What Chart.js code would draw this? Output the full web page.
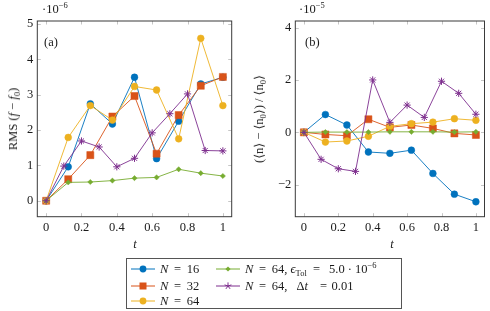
<!DOCTYPE html>
<html>
<head>
<meta charset="utf-8">
<script src="https://cdn.jsdelivr.net/npm/chart.js@4/dist/chart.umd.min.js"></script>
<style>
  html, body { margin:0; padding:0; background:#fff; }
  body { width:490px; height:311px; position:relative; overflow:hidden; font-family:"Liberation Serif","DejaVu Serif",serif; color:#1a1a1a; }
  canvas { position:absolute; top:0; }
  .lbl { position:absolute; white-space:nowrap; font-size:12.5px; line-height:14px; transform:translateY(-50%); }
  .rot { position:absolute; white-space:nowrap; font-size:12.5px; line-height:14px; transform:translate(-50%,-50%) rotate(-90deg); }
  .ctr { position:absolute; white-space:nowrap; font-size:12.5px; line-height:14px; transform:translate(-50%,-50%); }
  i { font-style:italic; }
  sup { font-size:8.5px; vertical-align:5px; line-height:0; }
  sub { font-size:8.5px; vertical-align:-3px; line-height:0; }
  #legend { position:absolute; left:126px; top:258px; width:276px; height:51px; border:1px solid #555; box-sizing:border-box; }
  svg.sym { position:absolute; overflow:visible; }
</style>
</head>
<body>
<canvas id="cA" width="245" height="255" style="left:0px"></canvas>
<canvas id="cB" width="245" height="255" style="left:245px"></canvas>

<div class="lbl" style="left:42px;top:9px">·10<sup>−6</sup></div>
<div class="lbl" style="left:299px;top:9px">·10<sup>−5</sup></div>
<div class="lbl" style="left:44px;top:42px">(a)</div>
<div class="lbl" style="left:305px;top:42px">(b)</div>
<div class="rot" style="left:13px;top:119px">RMS (<i>f</i> − <i>f</i><sub>0</sub>)</div>
<div class="rot" style="left:259px;top:119px">(⟨n⟩ − ⟨n<sub>0</sub>⟩) / ⟨n<sub>0</sub>⟩</div>
<div class="ctr" style="left:135px;top:244px"><i>t</i></div>
<div class="ctr" style="left:392px;top:244px"><i>t</i></div>

<div id="legend"></div>
<div id="legtext"></div>

<script>
// ---- data (values in units of the axis exponent: 1e-6 for (a), 1e-5 for (b)) ----
const tCoarse = [0, 0.125, 0.25, 0.375, 0.5, 0.625, 0.75, 0.875, 1];
const tFine   = [0, 0.1, 0.2, 0.3, 0.4, 0.5, 0.6, 0.7, 0.8, 0.9, 1];

const seriesNames = ["N = 16", "N = 32", "N = 64", "N = 64, eTol = 5.0e-6", "N = 64, dt = 0.01"];

const rmsN16  = [0, 0.96, 2.74, 2.17, 3.49, 1.19, 2.25, 3.30, 3.49];
const rmsN32  = [0, 0.61, 1.29, 2.38, 2.96, 1.33, 2.42, 3.25, 3.50];
const rmsN64  = [0, 1.79, 2.69, 2.28, 3.23, 3.13, 1.75, 4.59, 2.69];
const rmsTol  = [0, 0.52, 0.53, 0.57, 0.64, 0.66, 0.89, 0.78, 0.70];
const rmsDt   = [0, 0.98, 1.69, 1.52, 0.96, 1.20, 1.92, 2.46, 3.02, 1.42, 1.41];

const nN16 = [0, 0.68, 0.28, -0.75, -0.80, -0.68, -1.57, -2.36, -2.65];
const nN32 = [0, -0.08, -0.13, 0.50, 0.19, 0.28, 0.15, -0.04, -0.10];
const nN64 = [0, -0.37, -0.33, -0.15, 0.23, 0.33, 0.39, 0.52, 0.46];
const nTol = [0, 0.01, 0.01, 0.01, 0.02, 0.02, 0.02, 0.01, 0.02];
const nDt  = [0, -1.03, -1.39, -1.49, 2.00, 0.38, 1.04, 0.57, 1.95, 1.49, 0.69];

const xTicks  = [0, 0.2, 0.4, 0.6, 0.8, 1];
const yTicksA = [0, 1, 2, 3, 4, 5];
const yTicksB = [-2, 0, 2, 4];

// ---- styles ----
const COLORS = ["#0072BD", "#D95319", "#EDB120", "#77AC30", "#7E2F8E"];
const STYLES = [
  { pointStyle: "circle",  radius: 3.4 },
  { pointStyle: "rect",    radius: 5.0 },
  { pointStyle: "circle",  radius: 3.4 },
  { pointStyle: "rectRot", radius: 2.6 },
  { pointStyle: "star",    radius: 3.6 }
];

function pts(xs, ys) { return ys.map((v, i) => ({ x: xs[i], y: v })); }

function makeDatasets(lists) {
  return lists.map((l, i) => ({
    label: seriesNames[i],
    data: pts(l.x, l.y),
    borderColor: COLORS[i],
    backgroundColor: COLORS[i],
    borderWidth: 0.9,
    pointStyle: STYLES[i].pointStyle,
    pointRadius: STYLES[i].radius,
    pointBorderWidth: i === 4 ? 1 : 0.5,
    pointBorderColor: COLORS[i],
    pointBackgroundColor: COLORS[i],
    tension: 0,
    order: 4 - i
  }));
}

const frame = {
  id: "frame",
  beforeDatasetsDraw(chart) {
    const { ctx, chartArea: a, scales: { x, y } } = chart;
    ctx.save();
    ctx.strokeStyle = "#b8b8b8";
    ctx.lineWidth = 0.8;
    const L = 3.5;
    ctx.beginPath();
    x.ticks.forEach(t => {
      const p = Math.round(x.getPixelForValue(t.value)) + 0.5;
      ctx.moveTo(p, a.bottom); ctx.lineTo(p, a.bottom - L);
      ctx.moveTo(p, a.top); ctx.lineTo(p, a.top + L);
    });
    y.ticks.forEach(t => {
      const p = Math.round(y.getPixelForValue(t.value)) + 0.5;
      ctx.moveTo(a.left, p); ctx.lineTo(a.left + L, p);
      ctx.moveTo(a.right, p); ctx.lineTo(a.right - L, p);
    });
    ctx.stroke();
    ctx.restore();
  },
  afterDraw(chart) {
    const { ctx, chartArea: a } = chart;
    ctx.save();
    ctx.strokeStyle = "#3a3a3a";
    ctx.lineWidth = 1;
    ctx.strokeRect(a.left, a.top, a.right - a.left, a.bottom - a.top);
    ctx.restore();
  }
};

const tickFont = { family: "'Liberation Serif', 'DejaVu Serif', serif", size: 12.5 };
const fmt = v => (v < 0 ? "\u2212" + String(-v) : String(v));

function makeChart(id, datasets, yMin, yMax, yTicks, yWidth, padRight) {
  return new Chart(document.getElementById(id), {
    type: "line",
    data: { datasets },
    plugins: [frame],
    options: {
      responsive: false,
      animation: false,
      events: [],
      layout: { padding: { left: 0, top: 21, right: padRight, bottom: 0 } },
      plugins: { legend: { display: false }, tooltip: { enabled: false } },
      scales: {
        x: {
          type: "linear", min: -0.05, max: 1.05,
          afterBuildTicks: s => { s.ticks = xTicks.map(v => ({ value: v })); },
          afterFit: s => { s.height = 38.3; },
          grid: { display: false, drawTicks: false },
          border: { display: false },
          ticks: { font: tickFont, color: "#1a1a1a", padding: 4, maxRotation: 0, callback: v => fmt(v) }
        },
        y: {
          type: "linear", min: yMin, max: yMax,
          afterBuildTicks: s => { s.ticks = yTicks.map(v => ({ value: v })); },
          afterFit: s => { s.width = yWidth; },
          grid: { display: false, drawTicks: false },
          border: { display: false },
          ticks: { font: tickFont, color: "#1a1a1a", padding: 4, callback: v => fmt(v) }
        }
      }
    }
  });
}

function build() {
  makeChart("cA", makeDatasets([
    { x: tCoarse, y: rmsN16 }, { x: tCoarse, y: rmsN32 }, { x: tCoarse, y: rmsN64 },
    { x: tCoarse, y: rmsTol }, { x: tFine, y: rmsDt }
  ]), -0.45, 5.08, yTicksA, 37.3, 13.3);

  makeChart("cB", makeDatasets([
    { x: tCoarse, y: nN16 }, { x: tCoarse, y: nN32 }, { x: tCoarse, y: nN64 },
    { x: tCoarse, y: nTol }, { x: tFine, y: nDt }
  ]), -3.22, 4.25, yTicksB, 50.3, 1.2);
}

// ---- legend ----
function symSVG(i, cx, cy) {
  const c = COLORS[i];
  let m = "";
  if (i === 0 || i === 2) m = `<circle cx="12" cy="5" r="3.4" fill="${c}"/>`;
  else if (i === 1) m = `<rect x="8.5" y="1.5" width="7" height="7" fill="${c}"/>`;
  else if (i === 3) m = `<polygon points="12,2.4 14.6,5 12,7.6 9.4,5" fill="${c}"/>`;
  else {
    let d = "";
    for (let k = 0; k < 5; k++) {
      const a = -Math.PI / 2 + k * 2 * Math.PI / 5;
      d += `M12 5 L${(12 + 3.6 * Math.cos(a)).toFixed(2)} ${(5 + 3.6 * Math.sin(a)).toFixed(2)} `;
    }
    m = `<path d="${d}" stroke="${c}" stroke-width="1" fill="none"/>`;
  }
  return `<svg class="sym" width="24" height="10" style="left:${cx - 12}px;top:${cy - 5}px">` +
         `<line x1="0" y1="5" x2="24" y2="5" stroke="${c}" stroke-width="1"/>${m}</svg>`;
}
const rowsY = [269, 286, 301];
let html = "";
html += symSVG(0, 143, rowsY[0]) + symSVG(1, 143, rowsY[1]) + symSVG(2, 143, rowsY[2]);
html += symSVG(3, 227.5, rowsY[0]) + symSVG(4, 227.5, rowsY[1]);
const L = (x, y, s) => `<div class="lbl" style="left:${x}px;top:${y}px">${s}</div>`;
html += L(160, rowsY[0], "<i>N</i>&thinsp; = &thinsp;16");
html += L(160, rowsY[1], "<i>N</i>&thinsp; = &thinsp;32");
html += L(160, rowsY[2], "<i>N</i>&thinsp; = &thinsp;64");
html += L(245, rowsY[0], "<i>N</i>&thinsp; = &thinsp;64,");
html += L(290.5, rowsY[0], "<i>ϵ</i><sub>Tol</sub>");
html += L(313, rowsY[0], "=");
html += L(329, rowsY[0], "5.0 · 10<sup>−6</sup>");
html += L(245, rowsY[1], "<i>N</i>&thinsp; = &thinsp;64,");
html += L(296.5, rowsY[1], "Δ<i>t</i>");
html += L(320, rowsY[1], "=");
html += L(331.5, rowsY[1], "0.01");
document.getElementById("legtext").innerHTML = html;

if (document.fonts && document.fonts.load) {
  document.fonts.load("12.5px 'Liberation Serif'").then(build, build);
} else {
  build();
}
</script>
</body>
</html>
